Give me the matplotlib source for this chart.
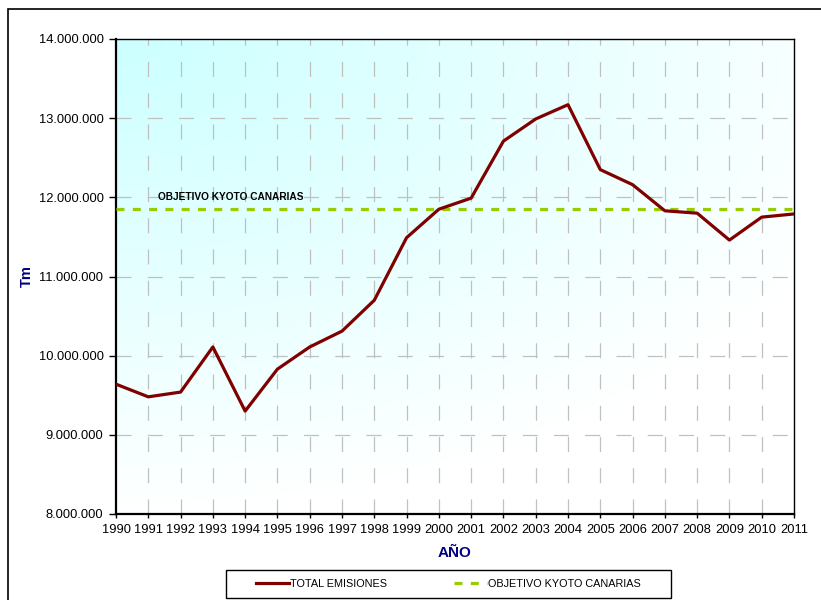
import numpy as np
import matplotlib.pyplot as plt
from matplotlib.patches import Rectangle
from matplotlib.lines import Line2D

plt.rcParams['font.family'] = ['Liberation Sans', 'DejaVu Sans']

# datos
years = list(range(1990, 2012))
emisiones = [9640000, 9480000, 9540000, 10110000, 9300000, 9830000, 10110000,
             10310000, 10700000, 11490000, 11850000, 11990000, 12710000, 12990000,
             13170000, 12350000, 12160000, 11830000, 11800000, 11460000, 11750000,
             11790000]
kyoto = 11850000
y_ticks = [8000000, 9000000, 10000000, 11000000, 12000000, 13000000, 14000000]

navy = '#000080'
grid_color = '#c0c0c0'

fig = plt.figure(figsize=(8.21, 6.0), dpi=100)
ax = fig.add_axes([116 / 821, 1 - 514 / 600, (794 - 116) / 821, (514 - 39) / 600])

# fondo degradado cian -> blanco
gx, gy = np.meshgrid(np.linspace(0, 1, 300), np.linspace(1, 0, 300))
t = np.clip(np.sqrt((gx * 0.9) ** 2 + ((1 - gy) * 1.05) ** 2) / 1.05, 0, 1)
cyan = np.array([0.80, 1.0, 1.0])
white = np.array([1.0, 1.0, 1.0])
img = cyan[None, None, :] * (1 - t[..., None]) + white[None, None, :] * t[..., None]
ax.imshow(img, extent=[0, 1, 0, 1], transform=ax.transAxes, aspect='auto',
          zorder=0, interpolation='bilinear')

# rejilla discontinua
for yr in years[1:-1]:
    ax.axvline(yr, color=grid_color, lw=0.9, linestyle=(0, (12, 13)), zorder=1)
for v in y_ticks[1:-1]:
    ax.axhline(v, color=grid_color, lw=0.9, linestyle=(0, (12, 13)), zorder=1)

ax.plot(years, [kyoto] * len(years), color='#99CC00', lw=2.3,
        linestyle=(0, (2.5, 2.6)), zorder=3)
ax.plot(years, emisiones, color='#800000', lw=2.3, zorder=4)

ax.text(1991.3, 12000000, 'OBJETIVO KYOTO CANARIAS', fontsize=7.3,
        fontweight='bold', color='black', va='center', zorder=5)

ax.set_xlim(1990, 2011)
ax.set_ylim(8000000, 14000000)
ax.set_xticks(years)
ax.set_xticklabels([str(y) for y in years], fontsize=9.3)
ax.set_yticks(y_ticks)
ax.set_yticklabels([f'{v:,.0f}'.replace(',', '.') for v in y_ticks], fontsize=9.3)
ax.tick_params(axis='y', direction='out', length=5, width=1, pad=4)
ax.tick_params(axis='x', direction='out', length=3, width=1, pad=4)

for s in ['left', 'bottom']:
    ax.spines[s].set_linewidth(1.6)
for s in ['top', 'right']:
    ax.spines[s].set_linewidth(1.0)

fig.text(0.5 * (116 + 794) / 821, 1 - 553 / 600, 'AÑO', fontsize=11,
         fontweight='bold', color=navy, ha='center', va='center')
fig.text(27 / 821, 1 - 276 / 600, 'Tm', fontsize=10.5, fontweight='bold',
         color=navy, rotation=90, ha='center', va='center')

# marco exterior
fig.patches.append(Rectangle((8 / 821, -0.05), 1.0, 1 - 9 / 600 + 0.05,
                             transform=fig.transFigure, fill=False,
                             edgecolor='black', lw=1.2))

# leyenda con marco propio
fig.patches.append(Rectangle((226 / 821, 1 - 598 / 600), (671 - 226) / 821, 28 / 600,
                             transform=fig.transFigure, fill=False,
                             edgecolor='black', lw=1.0))
handles = [Line2D([], [], color='#800000', lw=2.3),
           Line2D([], [], color='#99CC00', lw=2.3, linestyle=(0, (2.5, 2.6)))]
fig.legend(handles, ['TOTAL EMISIONES', 'OBJETIVO KYOTO CANARIAS'],
           loc='center', bbox_to_anchor=((226 + 671) / 2 / 821, 1 - 584 / 600),
           ncol=2, fontsize=7.8, frameon=False, handlelength=3.0,
           handletextpad=0.1, columnspacing=6.2)

fig.savefig('out.png', dpi=100)
